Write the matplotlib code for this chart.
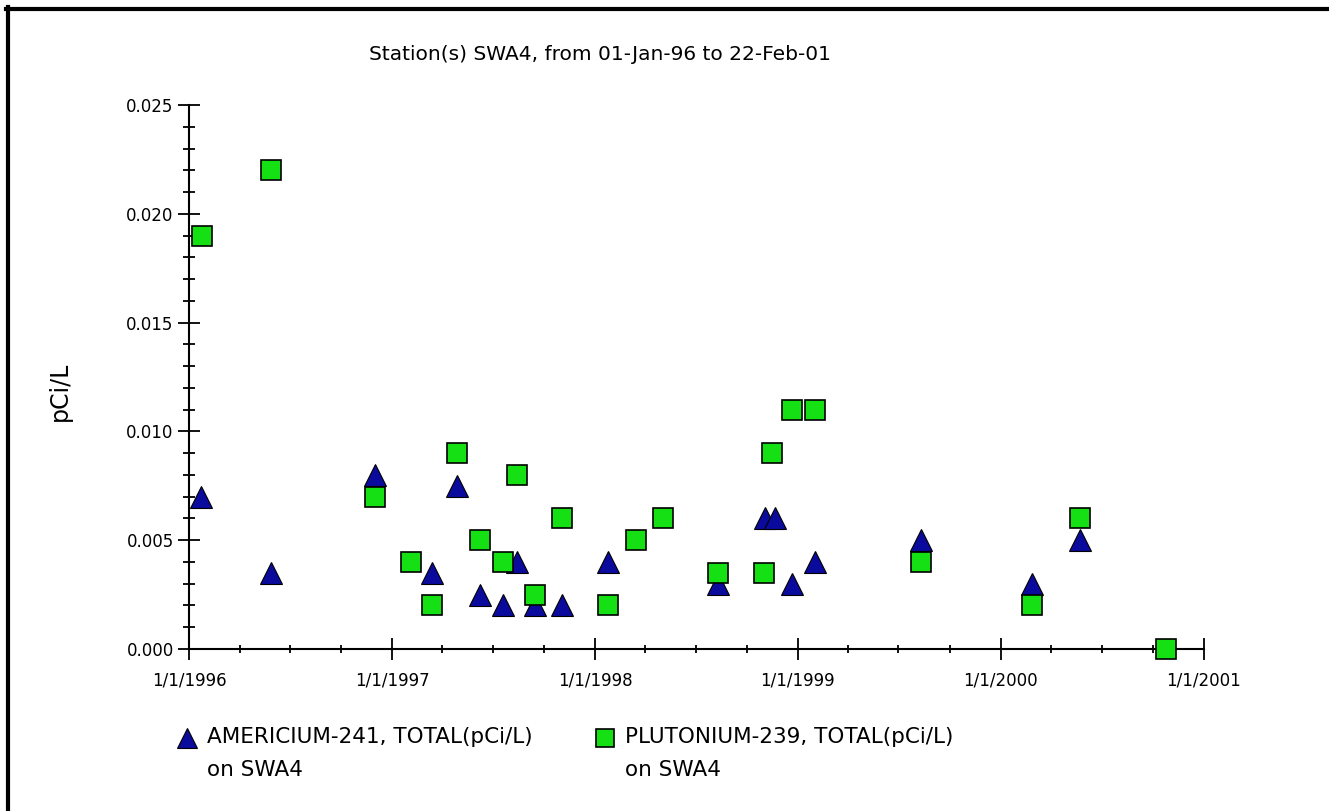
import datetime
import matplotlib
matplotlib.use('Agg')
import matplotlib.pyplot as plt
import matplotlib.dates as mdates
from matplotlib.lines import Line2D

# americium-241 samples
am_dates = ['1996-01-22', '1996-05-27', '1996-12-01', '1997-03-14', '1997-04-27',
            '1997-06-07', '1997-07-20', '1997-08-13', '1997-09-14', '1997-11-03',
            '1998-01-24', '1998-08-10', '1998-11-02', '1998-11-20', '1998-12-22',
            '1999-01-31', '1999-08-10', '2000-02-27', '2000-05-22']
am_vals = [0.007, 0.0035, 0.008, 0.0035, 0.0075,
           0.0025, 0.002, 0.004, 0.002, 0.002,
           0.004, 0.003, 0.006, 0.006, 0.003,
           0.004, 0.005, 0.003, 0.005]

# plutonium-239 samples
pu_dates = ['1996-01-24', '1996-05-27', '1996-12-01', '1997-02-04', '1997-03-14',
            '1997-04-27', '1997-06-07', '1997-07-20', '1997-08-13', '1997-09-14',
            '1997-11-03', '1998-01-24', '1998-03-16', '1998-05-04', '1998-08-10',
            '1998-11-01', '1998-11-16', '1998-12-22', '1999-01-31', '1999-08-10',
            '2000-02-27', '2000-05-22', '2000-10-25']
pu_vals = [0.019, 0.022, 0.007, 0.004, 0.002,
           0.009, 0.005, 0.004, 0.008, 0.0025,
           0.006, 0.002, 0.005, 0.006, 0.0035,
           0.0035, 0.009, 0.011, 0.011, 0.004,
           0.002, 0.006, 0.0]

years = [1996, 1997, 1998, 1999, 2000, 2001]
year_labels = ['1/1/%d' % y for y in years]
y_ticks = [0.0, 0.005, 0.010, 0.015, 0.020, 0.025]

title = 'Station(s) SWA4, from 01-Jan-96 to 22-Feb-01'
am_label = ['AMERICIUM-241, TOTAL(pCi/L)', 'on SWA4']
pu_label = ['PLUTONIUM-239, TOTAL(pCi/L)', 'on SWA4']

am_color = '#0a0a9c'
pu_color = '#14e014'

plt.rcParams['font.family'] = ['DejaVu Sans']


def toDates(lst):
    return [datetime.datetime.strptime(d, '%Y-%m-%d') for d in lst]


W, H = 1329, 811
fig = plt.figure(figsize=(W / 100, H / 100), dpi=100)
ax = fig.add_axes([189 / W, 1 - 649 / H, (1204 - 189) / W, (649 - 105) / H])

ax.plot(toDates(am_dates), am_vals, linestyle='none', marker='^', ms=15.5,
        mfc=am_color, mec='black', mew=0.8, clip_on=False, zorder=3)
ax.plot(toDates(pu_dates), pu_vals, linestyle='none', marker='s', ms=14.5,
        mfc=pu_color, mec='black', mew=1.2, clip_on=False, zorder=4)

ax.set_xlim(datetime.datetime(1996, 1, 1), datetime.datetime(2001, 1, 1))
ax.set_ylim(0, 0.025)

ax.set_xticks([datetime.datetime(y, 1, 1) for y in years])
ax.set_xticklabels(year_labels)
ax.xaxis.set_minor_locator(mdates.MonthLocator(bymonth=[4, 7, 10]))
ax.set_yticks(y_ticks)
ax.set_yticklabels(['%.3f' % v for v in y_ticks])
ax.set_yticks([i * 0.001 for i in range(26) if i % 5], minor=True)

for s in ['top', 'right']:
    ax.spines[s].set_visible(False)
for s in ['left', 'bottom']:
    ax.spines[s].set_linewidth(1.5)

ax.tick_params(axis='y', which='major', direction='inout', length=16, width=1.3,
               pad=3, labelsize=12)
ax.tick_params(axis='y', which='minor', direction='inout', length=8, width=1.3)
ax.tick_params(axis='x', which='major', direction='inout', length=16, width=1.3,
               pad=8, labelsize=12)
ax.tick_params(axis='x', which='minor', direction='inout', length=6, width=1.3)

ax.set_ylabel('pCi/L', fontsize=17)
ax.yaxis.set_label_coords((72 - 189) / (1204 - 189), (649 - 391) / (649 - 105))

fig.text(600 / W, 1 - 54 / H, title, ha='center', va='center', fontsize=14.5)

# legend drawn by hand so the marker sits next to the first line
fig.add_artist(Line2D([187 / W], [1 - 738 / H], marker='^', ms=14, mfc=am_color,
                      mec='black', mew=0.8, linestyle='none', transform=fig.transFigure))
fig.add_artist(Line2D([605 / W], [1 - 738 / H], marker='s', ms=13, mfc=pu_color,
                      mec='black', mew=1.2, linestyle='none', transform=fig.transFigure))
for x0, lines in [(207, am_label), (625, pu_label)]:
    fig.text(x0 / W, 1 - 737 / H, lines[0], ha='left', va='center', fontsize=15.5)
    fig.text(x0 / W, 1 - 770 / H, lines[1], ha='left', va='center', fontsize=15.5)

# border on left and top only
fig.add_artist(Line2D([8 / W, 8 / W], [0, 1 - 7 / H], color='black', lw=3,
                      transform=fig.transFigure))
fig.add_artist(Line2D([6 / W, 1], [1 - 9 / H, 1 - 9 / H], color='black', lw=3,
                      transform=fig.transFigure))

fig.savefig('out.png', dpi=100)
